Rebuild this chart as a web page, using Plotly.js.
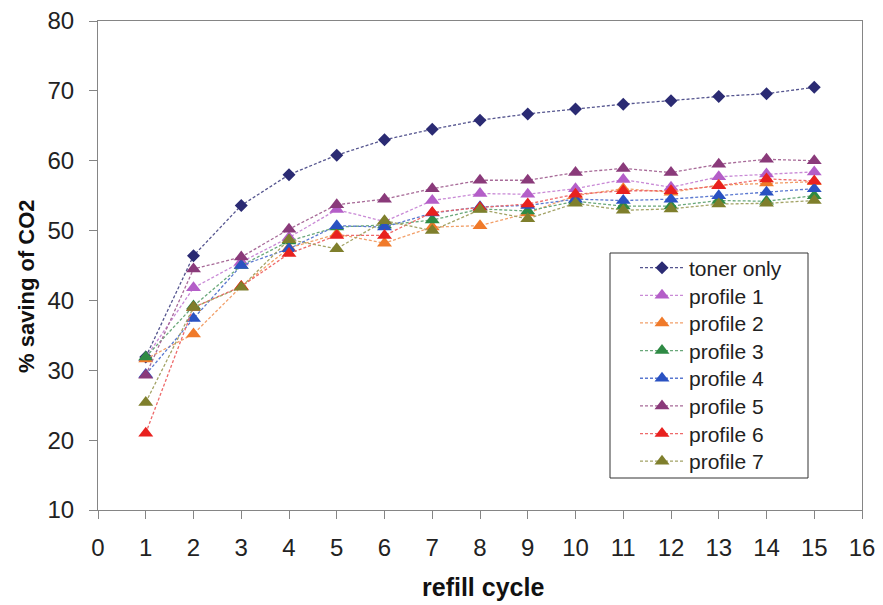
<!DOCTYPE html>
<html>
<head>
<meta charset="utf-8">
<script src="https://cdn.plot.ly/plotly-3.0.1.min.js"></script>
<style>
  html, body { margin: 0; padding: 0; background: #ffffff; }
  #chart { width: 883px; height: 605px; }
</style>
</head>
<body>
<div id="chart"></div>
<script>
const cycles = [1, 2, 3, 4, 5, 6, 7, 8, 9, 10, 11, 12, 13, 14, 15];

const tonerOnly = [31.9, 46.4, 53.6, 58.0, 60.8, 63.0, 64.5, 65.8, 66.7, 67.4, 68.1, 68.6, 69.2, 69.6, 70.5];
const profile1  = [31.8, 41.8, 45.5, 49.0, 53.0, 51.3, 54.3, 55.3, 55.2, 56.0, 57.3, 56.2, 57.7, 58.1, 58.4];
const profile2  = [31.6, 35.2, 42.0, 47.5, 49.5, 48.2, 50.5, 50.7, 52.5, 55.0, 56.0, 55.5, 56.5, 56.8, 57.0];
const profile3  = [31.9, 39.2, 45.0, 48.5, 50.5, 50.8, 51.5, 53.1, 52.8, 54.2, 53.5, 53.5, 54.3, 54.2, 55.0];
const profile4  = [29.4, 37.4, 45.0, 47.4, 50.7, 50.5, 52.5, 53.4, 53.6, 54.5, 54.3, 54.5, 55.0, 55.5, 56.0];
const profile5  = [29.3, 44.5, 46.2, 50.2, 53.7, 54.5, 56.0, 57.2, 57.2, 58.3, 58.9, 58.3, 59.5, 60.2, 60.0];
const profile6  = [21.0, 39.0, 42.0, 46.7, 49.3, 49.3, 52.6, 53.3, 53.8, 55.2, 55.7, 55.7, 56.4, 57.4, 57.1];
const profile7  = [25.4, 39.0, 41.9, 48.7, 47.4, 51.4, 50.0, 53.0, 51.7, 53.9, 52.9, 53.1, 53.8, 53.9, 54.3];

const seriesNames = ['toner only', 'profile 1', 'profile 2', 'profile 3', 'profile 4', 'profile 5', 'profile 6', 'profile 7'];
const seriesValues = [tonerOnly, profile1, profile2, profile3, profile4, profile5, profile6, profile7];
const seriesColors = ['#2b2b73', '#b45ec8', '#f07a2a', '#2e8a44', '#2a52c2', '#8a3a7a', '#e8211f', '#7f7f2c'];
const lineColors   = ['#55558f', '#c98ad6', '#f2a06a', '#6aa87a', '#5a78d0', '#a76a98', '#ee6a6a', '#a3a366'];
const seriesSymbols = ['diamond', 'triangle-up', 'triangle-up', 'triangle-up', 'triangle-up', 'triangle-up', 'triangle-up', 'triangle-up'];

const FONT = 'Liberation Sans, Arial, sans-serif';

const legendKeys = seriesNames.map((n, i) => i === 0 ? 'legend' : 'legend' + (i + 1));

const traces = seriesNames.map((name, i) => ({
  x: cycles,
  y: seriesValues[i],
  name: name,
  legend: legendKeys[i],
  type: 'scatter',
  mode: 'lines+markers',
  line: { color: lineColors[i], width: 1.3, dash: '3px,2px' },
  marker: {
    color: seriesColors[i],
    symbol: seriesSymbols[i],
    size: seriesSymbols[i] === 'diamond' ? 10 : 13,
    line: { width: 0 }
  }
}));

// plot area in pixels: left 98, right 862, top 21, bottom 510
const plotL = 98, plotW = 764, plotB = 510, plotH = 489;
const px2x = p => (p - plotL) / plotW;
const px2y = p => (plotB - p) / plotH;

const layout = {
  width: 883,
  height: 605,
  paper_bgcolor: '#ffffff',
  plot_bgcolor: '#ffffff',
  margin: { l: 98, r: 21, t: 21, b: 95 },
  showlegend: true,
  xaxis: {
    range: [0, 16],
    dtick: 1,
    tick0: 0,
    showgrid: false,
    zeroline: false,
    showline: true,
    mirror: true,
    linecolor: '#858585',
    linewidth: 1,
    ticks: 'outside',
    ticklen: 8,
    tickcolor: '#858585',
    ticklabelstandoff: 8,
    tickfont: { family: FONT, size: 24, color: '#222222' }
  },
  yaxis: {
    range: [10, 80],
    dtick: 10,
    showgrid: false,
    zeroline: false,
    showline: true,
    mirror: true,
    linecolor: '#858585',
    linewidth: 1,
    ticks: 'outside',
    ticklen: 8,
    tickcolor: '#858585',
    ticklabelstandoff: 10,
    tickfont: { family: FONT, size: 24, color: '#222222' }
  },
  shapes: [{
    type: 'rect', xref: 'paper', yref: 'paper', layer: 'below',
    x0: px2x(610), x1: px2x(808), y0: px2y(478), y1: px2y(253),
    line: { color: '#333333', width: 1 }, fillcolor: '#ffffff'
  }],
  annotations: [
    {
      text: '<b>refill cycle</b>', xref: 'paper', yref: 'paper',
      x: px2x(483), y: px2y(587), xanchor: 'center', yanchor: 'middle',
      showarrow: false, font: { family: FONT, size: 25, color: '#111111' }
    },
    {
      text: '<b>% saving of CO2</b>', xref: 'paper', yref: 'paper',
      x: px2x(26), y: px2y(286), xanchor: 'center', yanchor: 'middle',
      textangle: -90, showarrow: false, font: { family: FONT, size: 22, color: '#111111' }
    }
  ]
};

legendKeys.forEach((key, i) => {
  layout[key] = {
    x: px2x(635),
    y: px2y(268 + i * 27.65),
    xanchor: 'left',
    yanchor: 'middle',
    bgcolor: 'rgba(0,0,0,0)',
    borderwidth: 0,
    itemwidth: 44,
    font: { family: FONT, size: 21, color: '#222222' }
  };
});

Plotly.newPlot('chart', traces, layout, { displayModeBar: false, staticPlot: true });
</script>
</body>
</html>
